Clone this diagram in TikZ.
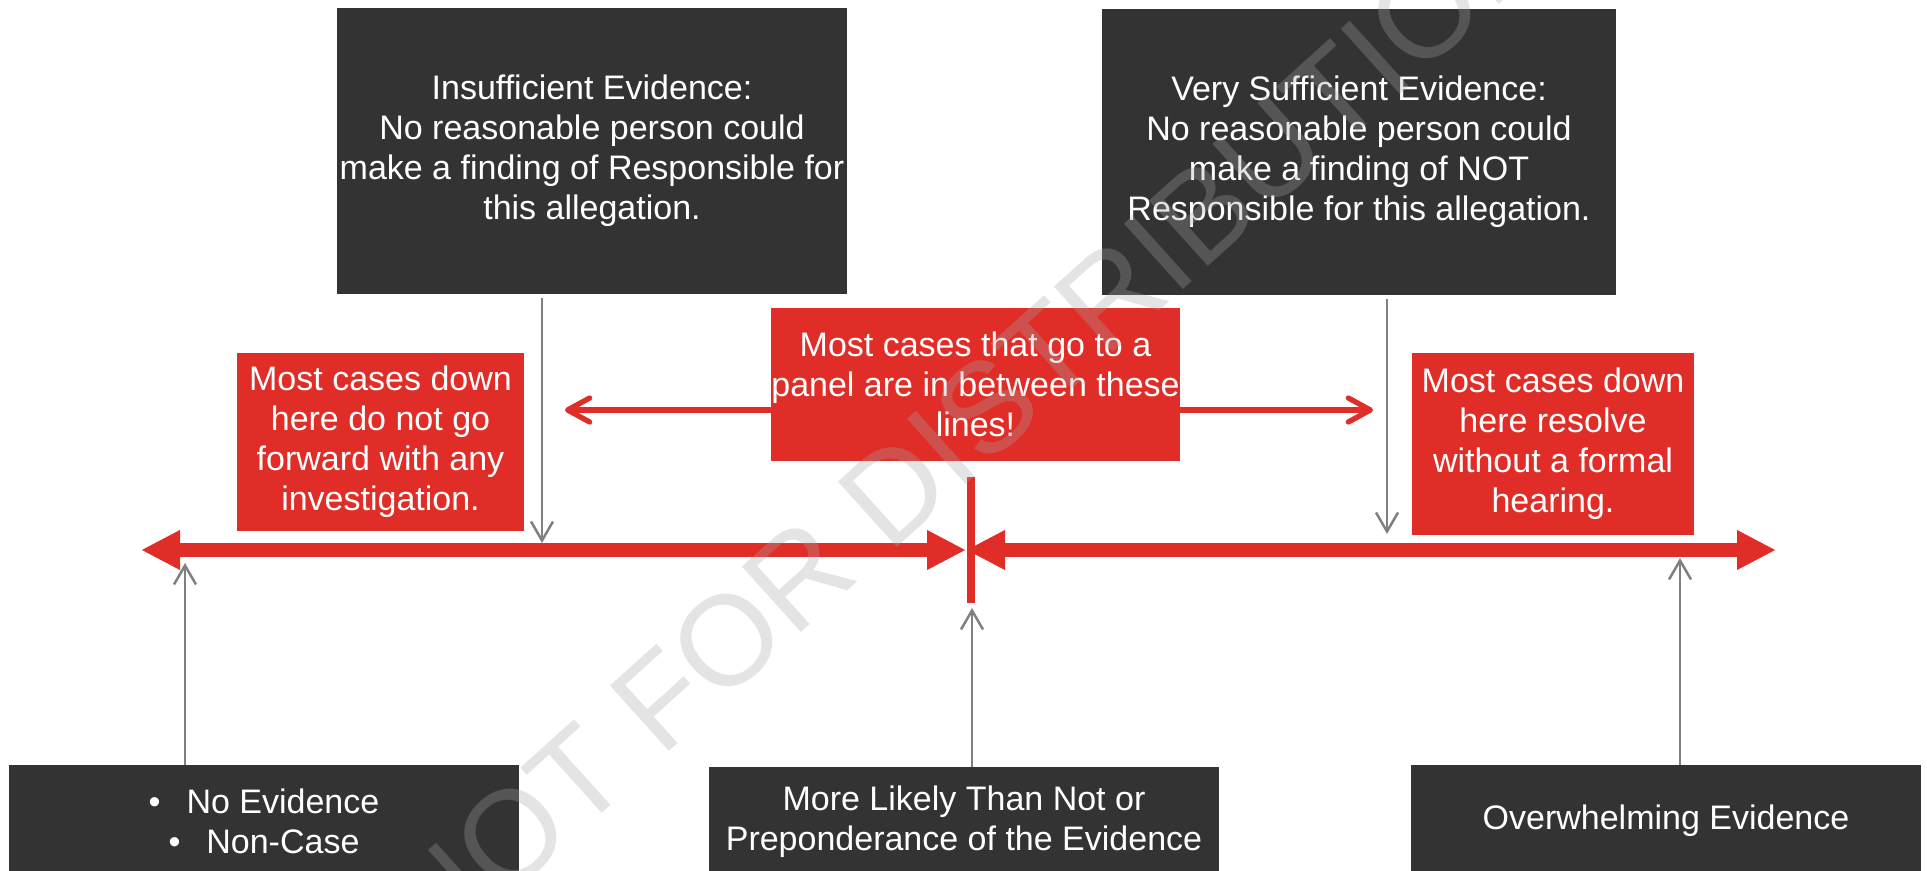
\documentclass[tikz,border=0pt]{standalone}
\usepackage{fontspec}
\setmainfont{Liberation Sans}
\usetikzlibrary{arrows.meta}
\definecolor{slidered}{RGB}{225,45,39}
\definecolor{slidedark}{RGB}{51,51,51}
\definecolor{arrowgrey}{RGB}{128,128,128}
\definecolor{markgrey}{RGB}{166,166,166}
\begin{document}
\begin{tikzpicture}[x=0.5pt,y=-0.5pt,
    every node/.style={inner sep=0pt,align=center,text=white,font=\fontsize{17}{20}\selectfont},
    darkbox/.style={fill=slidedark},
    redbox/.style={fill=slidered},
    redaxis/.style={slidered,line width=6.65pt,{Triangle[length=19.5pt,width=18.5pt]}-{Triangle[length=19.5pt,width=18.5pt]}},
    redpointer/.style={slidered,line width=2.65pt,-{Straight Barb[length=11pt,width=12pt,round]}},
    greyarrow/.style={arrowgrey,line width=1.25pt,-{Straight Barb[length=9.5pt,width=11pt]}}]
    \clip (0,0) rectangle (1927,871);

    \node[darkbox,minimum width=255pt,minimum height=143pt](ins)   at (592,151) {Insufficient Evidence:\\No reasonable person could\\make a finding of Responsible for\\this allegation.};
    \node[darkbox,minimum width=257pt,minimum height=143pt](vsuff) at (1359,152){Very Sufficient Evidence:\\No reasonable person could\\make a finding of NOT\\Responsible for this allegation.};
    \node[redbox,minimum width=204.5pt,minimum height=76.5pt](panel) at (975.5,384.5){Most cases that go to a\\panel are in between these\\lines!};
    \node[redbox,minimum width=143.5pt,minimum height=89pt](lowcases)  at (380.5,442){Most cases down\\here do not go\\forward with any\\investigation.};
    \node[redbox,minimum width=141pt,minimum height=91pt](highcases)   at (1553,444) {Most cases down\\here resolve\\without a formal\\hearing.};
    \node[darkbox,minimum width=255pt,minimum height=56pt](noev)  at (264,821) {\textbullet\hspace{13pt}No Evidence\\\textbullet\hspace{13pt}Non-Case};
    \node[darkbox,minimum width=255pt,minimum height=55pt](prepon) at (964,822) {More Likely Than Not or\\Preponderance of the Evidence};
    \node[darkbox,minimum width=255pt,minimum height=56pt](overw) at (1666,821) {Overwhelming Evidence};

    \coordinate (axleft)  at (141,550);
    \coordinate (axmid)   at (966,550);
    \coordinate (axright) at (1776,550);
    \coordinate (ticktop) at (971,477);
    \coordinate (tickbot) at (971,603);
    \draw[redaxis] (axleft) -- (axmid);
    \draw[redaxis] (axmid) -- (axright);
    \draw[slidered,line width=3.6pt] (ticktop) -- (tickbot);

    \coordinate (panelleft)  at (565,410);
    \coordinate (panelright) at (1373,410);
    \draw[redpointer] (panel.west |- panelleft)  -- (panelleft);
    \draw[redpointer] (panel.east |- panelright) -- (panelright);

    \coordinate (insdown)   at (542,543);
    \coordinate (vsuffdown) at (1387,534);
    \coordinate (noevup)    at (185,563);
    \coordinate (preponup)  at (972,608);
    \coordinate (overwup)   at (1680,558);
    \draw[greyarrow,shorten <=2pt] (ins.south -| insdown)     -- (insdown);
    \draw[greyarrow,shorten <=2pt] (vsuff.south -| vsuffdown) -- (vsuffdown);
    \draw[greyarrow] (noev.north -| noevup)     -- (noevup);
    \draw[greyarrow] (prepon.north -| preponup) -- (preponup);
    \draw[greyarrow] (overw.north -| overwup)   -- (overwup);

    % watermark
    \node[rotate=42,text=markgrey,text opacity=0.3,font=\fontsize{64}{64}\selectfont](mark) at (968,424) {NOT FOR DISTRIBUTION};
\end{tikzpicture}
\end{document}
